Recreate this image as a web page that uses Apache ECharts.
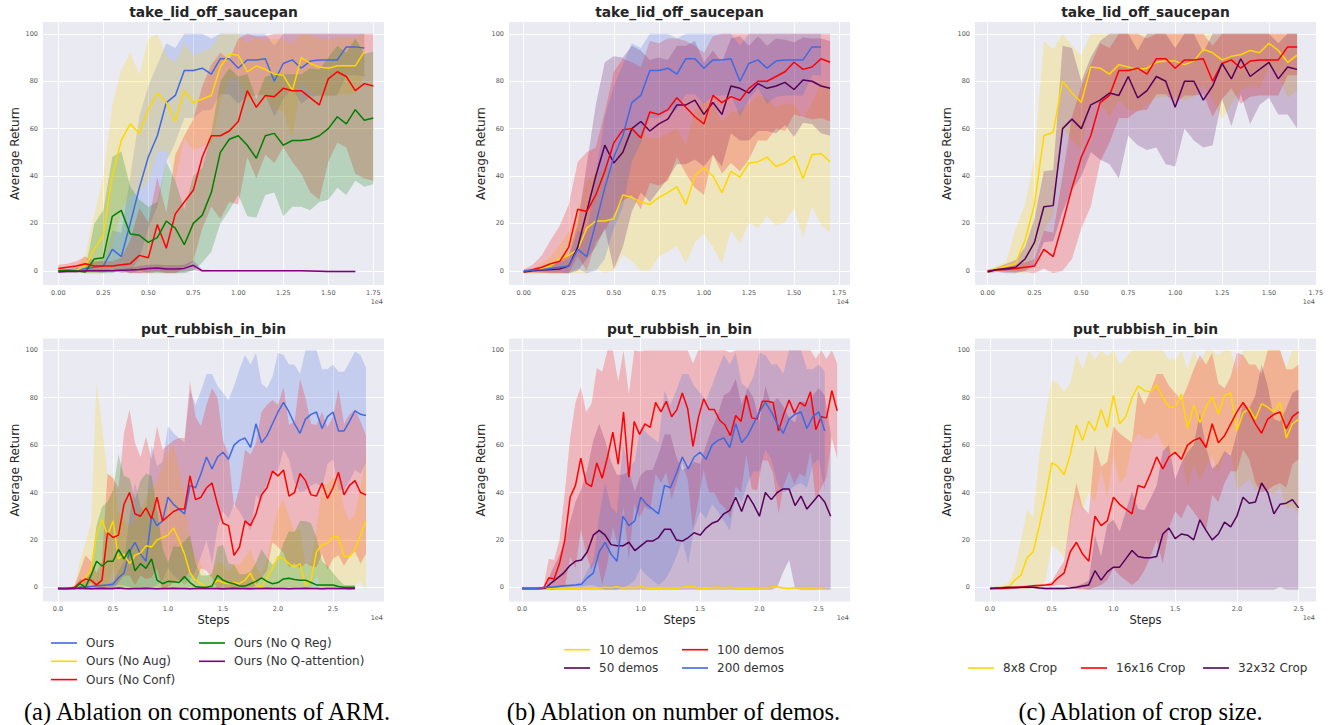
<!DOCTYPE html>
<html><head><meta charset="utf-8">
<script src="https://cdn.jsdelivr.net/npm/echarts@6/dist/echarts.min.js"></script>
<style>html,body{margin:0;padding:0;background:#fff}#c{width:1330px;height:725px}</style>
</head><body><div id="c"></div>
<script>
// ---------- tick labels ----------
const tickTop = [0, 2500, 5000, 7500, 10000, 12500, 15000, 17500];
const tickBottom = [0, 5000, 10000, 15000, 20000, 25000];
const tickY = [0, 20, 40, 60, 80, 100];

// ---------- take_lid_off_saucepan (logged every 500 steps) ----------
const oursTake = [0,0.3,0.5,1,1.5,2,9,6,20,35, 48,57,71,74,84.5,84.5,85.5,83,89.5,89.5, 85.5,89,89,89.5,80,87.5,89,85.5,88.5,89, 89,89,94.5,94.5,94];
const oursTakeSd = [0.5,0.5,1,1.5,2,3,8,10,20,30, 30,30,25,20,20,20,18,15,15,15, 15,15,15,15,15,15,12,15,15,15, 15,15,12,12,12];
const noAugTake = [0,0,0.3,2,9,15,40,55,62,58, 68,75,71,63,76,71,72.5,74,86,91.5, 91,84,86.5,85,83,82.5,76,90,87.5,86, 85.5,86.5,86.5,86.5,92.5];
const noAugTakeSd = [0.5,0.5,1,5,15,25,30,30,30,25, 30,25,20,25,20,20,20,20,15,10, 10,12,12,12,15,15,20,10,12,12, 12,12,12,12,10];
const noConfTake = [1,1.5,2,3,2,2,2,2.5,3,6.5, 5.5,19.5,9.5,24,29,34,48,57,57,59, 63,76,69,74,73.5,77,76,76,73,70, 81,84,82,76,79,78];
const noConfTakeSd = [1.5,1.5,2,3,2,2,2,3,10,20, 15,20,15,25,28,30,30,30,35,30, 35,28,30,25,28,25,30,35,40,40, 35,30,30,35,40,40];
const noQRegTake = [0,0,0,-0.5,5,5.5,23,25.5,15.5,15, 12,14,21,18,11,20,23.5,33,50,55.5, 57,53,47.5,57,58,53,55,55,55.5,57, 60,65,62,68,63.5,64.5];
const noQRegTakeSd = [0.5,0.5,0.5,1,15,20,25,25,20,15, 15,15,25,20,15,20,20,25,30,30, 25,30,25,25,25,30,28,28,30,28, 30,30,30,30,28,28];
const noQAttTake = [-0.5,-0.3,-0.3,0,0,0,0,0.2,0.3,0.5, 1,1.2,0.8,0.8,1,2.3,0,0,0,0, 0,0,0,0,0,0,0,0,-0.1,-0.2, -0.3,-0.3,-0.3,-0.3];
const noQAttTakeSd = [0.5,0.5,0.5,0.5,0.5,0.5,0.5,0.5,1,1.5, 1.5,1.5,1.5,1.5,1.5,2,0.5,0.3,0.3,0.3, 0.3,0.3,0.3,0.3,0.3,0.3,0.3,0.3,0.3,0.3, 0.3,0.3,0.3,0.3];

const tenTake = [-0.5,0,1,2,5,6.5,9,18,21,21, 22,32,31,29,28,31,33,35.5,28,40, 43.5,40,33,42,39.5,45.5,46,48,44,45.5, 48.5,39,49,49.5,46];
const tenTakeSd = [0.5,1,2,4,6,10,15,20,20,22, 22,25,27,29,28,25,25,25,25,28, 28,30,30,25,28,25,28,25,25,25, 22,25,22,30,30];
const fiftyTake = [-0.5,0,0.3,0.5,0.8,2,10,25,40,53, 45.5,50,60,63,59,62,64,70,70,72, 66,71,66,78,77,75,79,77,78,79.5, 76.5,80.5,80,78,77];
const fiftyTakeSd = [0.5,0.5,1,2,3,5,10,20,30,35, 45,40,35,30,30,28,25,25,25,25, 22,22,22,20,22,20,20,18,20,18, 20,18,18,20,20];
const hundredTake = [-0.5,0.5,1.5,3,4,10,26,25,32,42, 54,59.5,60,56,67,66,68,73,69,65, 62,74,71,73.5,72,77,80,80,82,84, 88,85,86,89.5,88];
const hundredTakeSd = [1,2,5,10,15,18,20,25,20,25, 30,30,28,30,30,30,30,25,28,30, 30,25,30,28,30,30,25,25,22,25, 22,20,22,25,25];

const eightTake = [-0.5,1,2,3,13,28,57,58.5,80,75, 71,86,85.5,83,87,86,85,85.5,88,88.5, 88.5,87,88.5,93.5,92,89,90.5,91.2,93,92, 96,93,88,91];
const eightTakeSd = [0.5,1,2,15,15,20,40,35,20,20, 20,15,15,18,15,18,18,15,15,15, 15,15,15,15,20,25,20,15,15,15, 10,10,15,15];
const thirtyTwoTake = [-0.5,0.5,1,1.5,5,12,27,27.5,60,64, 60,70,72,75,74,82,73,76,82,80, 69,80,80,72,78,87.5,81,89.5,82,85, 88,81,86,85];
const thirtyTwoTakeSd = [0.5,1,2,3,5,10,15,15,35,30, 20,20,25,30,35,25,20,25,30,35, 25,20,25,20,25,15,20,15,20,15, 15,15,20,25];

// ---------- put_rubbish_in_bin (logged every 500 steps; 100 demos every 450) ----------
const oursRub = [-0.5,-0.5,-0.5,-0.3,0,0,0.3,0.6,0.8,1, 1.3,4,6,15,19,14,11,30,26,28, 38,35,33,31,43,42,48,55,50,55, 57,54,60,62,63,59,69,61,64,69, 74,78,74,69,65,71,73,74,67,72, 74,66,66,70,74.5,73,72.5];
const oursRubSd = [0.5,0.5,0.5,0.5,0.5,0.5,0.5,0.5,0.5,0.5, 1,3,5,15,25,20,20,30,25,25, 30,30,30,30,40,35,35,35,40,30, 25,25,25,30,35,35,30,25,20,20, 25,20,20,25,25,30,30,30,25,20, 20,25,25,25,25,25,20];
const noAugRub = [-0.5,-0.5,-0.5,-0.3,1,4,7,22,28.5,22, 28,12,14,10,13.5,14.5,17.5,17,20,21, 22,25,20,14,6,3,1.5,0,1,3, 2,1.5,2,1.5,3,6,1,0,4,8, 13,12,10,8.5,10,1,3,15,18,18.5, 21.5,21,13,13,16,22,28];
const noAugRubSd = [0.5,0.5,0.5,0.5,10,15,20,65,40,25, 20,20,15,15,15,18,20,25,25,30, 35,35,30,25,15,10,8,5,5,8, 8,5,8,8,10,10,8,5,8,15, 20,25,20,15,15,8,8,10,25,25, 25,25,20,15,15,20,30];
const noConfRub = [-0.5,-0.5,-0.5,0,2,3.5,3,1,3,23, 21,22,35,40,31,30,33.5,29,38,28, 30,32,33,33,47,37,38,42,44,35, 27,26,13.5,17,28,26,31,39,42,49, 47,49.5,38.5,40,48,45,39,38.5,44,37.5, 42,48.5,39,43,45,40,39];
const noConfRubSd = [0.5,0.5,0.5,0.5,5,10,8,5,8,25, 25,20,30,35,30,25,30,25,30,30, 30,30,30,30,40,35,30,35,40,45, 35,30,20,25,30,30,30,35,35,30, 30,35,30,30,40,35,30,30,30,30, 30,35,30,30,30,30,25];
const noQRegRub = [-0.5,-0.5,-0.5,-0.5,1.5,0,5,11,9,11, 11,16,12,16,7,10,8,12,3,1.5, 2.5,2.3,2,4.5,2,0.3,0,0,0.5,5, 3,2,1.5,0.5,0.5,1.5,2.5,4,2.5,1.5, 2,3.5,3.8,3.3,3,3,2,1,1,1, 1,0.3,0,0,0];
const noQRegRubSd = [0.5,0.5,0.5,0.5,2,3,3,15,25,25, 30,40,35,30,30,35,40,35,30,15, 8,15,15,15,20,10,5,5,5,12, 15,8,8,5,5,5,8,12,10,8, 10,15,20,20,25,25,25,20,10,8, 5,3,1,1,1];
const noQAttRub = [-0.5,-0.6,-0.5,-0.5,-0.4,-0.5,-0.6,-0.5,-0.4,-0.5, -0.5,-0.3,-0.5,-0.6,-0.5,-0.5,-0.4,-0.5,-0.6,-0.5, -0.5,-0.4,-0.5,-0.5,-0.6,-0.5,-0.4,-0.5,-0.5,-0.5, -0.6,-0.5,-0.4,-0.5,-0.5,-0.6,-0.5,-0.5,-0.4,-0.5, -0.5,-0.5,-0.6,-0.5,-0.5,-0.4,-0.5,-0.5,-0.6,-0.5, -0.5,-0.5,-0.5,-0.6,-0.5];
const noQAttRubSd = [0.3,0.3,0.3,0.3,0.3,0.3,0.3,0.3,0.3,0.3, 0.3,0.3,0.3,0.3,0.3,0.3,0.3,0.3,0.3,0.3, 0.3,0.3,0.3,0.3,0.3,0.3,0.3,0.3,0.3,0.3, 0.3,0.3,0.3,0.3,0.3,0.3,0.3,0.3,0.3,0.3, 0.3,0.3,0.3,0.3,0.3,0.3,0.3,0.3,0.3,0.3, 0.3,0.3,0.3,0.3,0.3];

const tenRub = [-0.5,-0.5,-0.3,-0.5,-0.5,-0.3,-0.5,-0.4,-0.3,-0.5, -0.3,-0.2,-0.5,-0.3,0,-0.2,0.2,-0.3,0,-0.2, 0.2,-0.3,-0.5,-0.5,-0.3,-0.3,-0.5,0,0.3,0.2, -0.8,-0.5,-0.2,0,-0.3,0,-0.3,-0.5,-0.3,-0.4, -0.3,-0.2,0,0.2,-0.3,-0.5,-0.2,-0.3,-0.2,-0.3, -0.2,-0.2];
const tenRubSd = [0.5,0.5,0.5,0.5,0.5,0.5,0.5,0.5,0.5,0.5, 0.5,0.5,0.5,0.5,0.5,0.5,0.5,0.5,0.5,0.5, 0.5,0.5,0.5,0.5,0.5,0.5,0.5,0.5,0.5,0.5, 0.5,0.5,0.5,0.5,0.5,0.5,0.5,0.5,0.5,0.5, 0.5,0.5,0.5,0.5,0.5,0.5,0.5,0.5,0.5,0.5, 0.5,0.5];
const fiftyRub = [-0.5,-0.5,-0.5,-0.5,-0.3,2,4,6,9,11, 11.5,15,22,24,22,18,17.5,17.5,19,15.5, 17.5,19.5,19.5,21,24.5,24.5,20,19.5,21,23, 22,25,27,28,31,32.5,38,32,39,35, 30,40,37,40,41.5,41.5,34.5,38.5,33,36, 39,36,30];
const fiftyRubSd = [0.5,0.5,0.5,0.5,0.5,5,8,12,18,25, 30,35,40,45,40,35,30,30,30,25, 30,30,30,35,40,40,35,30,30,30, 30,35,40,45,50,50,50,45,45,45, 40,45,40,40,35,30,35,40,45,45, 45,45,35];
const hundredRub = [-0.5,-0.5,-0.5,-0.5,-0.5,4,3.5,10,20,38, 43,54.5,44,42.5,52.5,46,55,65.5,52,74, 46.5,70,64.5,69,67.5,78,74,78.5,72,75, 82,75.5,59.5,71.5,79.5,75,75,70.5,68.5,64, 72.5,70,81,71.5,71,78.5,78.5,78,66,73, 79,73.5,78,76.5,82.5,66.5,72,71.5,83,74.5];
const hundredRubSd = [0.5,0.5,0.5,0.5,0.5,8,8,10,20,25, 35,30,30,35,40,45,45,40,35,40, 35,35,35,35,35,30,30,30,35,30, 30,30,35,35,30,35,35,35,35,35, 30,30,25,30,30,25,25,30,35,30, 30,30,30,30,25,30,30,25,20,20];

const eightRub = [-0.5,-0.3,0,0,3,5,12.5,15,26,38, 52.5,51,47.5,56,68.5,62,70,66,75,67.5, 81,69,72,80,85,83,82.5,85.5,80,76, 76,81.5,67,77,69.5,76,80.5,73,81,82, 66,73.5,75.5,71,77.5,76,74,78,63,69, 71];
const eightRubSd = [0.5,0.5,0.5,2,5,15,20,15,30,35, 35,35,35,30,30,30,30,30,25,30, 25,25,25,20,20,20,20,20,20,20, 20,25,25,25,25,25,25,25,25,25, 25,30,30,30,35,35,35,35,30,35, 40];
const thirtyTwoRub = [-0.5,-0.3,-0.2,0,-0.2,0,0,0,-0.3,-0.5, -0.5,-0.5,-0.5,-0.3,0,0.5,1,7,3,6.5, 8.5,8.5,12,15.5,13,12.5,12.5,13,22.5,25, 20.5,22.5,22,20,28.5,24,20,22.5,27.5,25.5, 30,38,35.5,36,44,40,31,35,35.5,37, 33.5];
const thirtyTwoRubSd = [0.5,0.5,0.5,0.5,0.5,0.5,0.5,0.5,0.5,0.5, 0.5,0.5,0.5,0.5,0.5,1,2,15,10,20, 20,15,20,25,20,20,25,30,35,35, 25,30,35,40,45,35,30,30,30,30, 35,40,40,45,50,45,40,35,40,45, 50];

// ---------- styling ----------
const COL = {blue:'#4169e1', gold:'#ffd700', red:'#ff0000', green:'#008000', purple:'#800080', plum:'#55005a'};
const FONT = 'DejaVu Sans';
const GL = [43, 509, 975], GT = [22, 338.5], GW = 341, GH = 263;

function rgba(hex, a) {
  const n = parseInt(hex.slice(1), 16);
  return 'rgba(' + ((n >> 16) & 255) + ',' + ((n >> 8) & 255) + ',' + (n & 255) + ',' + a + ')';
}

const panels = [
  {c:0, r:0, title:'take_lid_off_saucepan', xmin:-850, xmax:18094, ticks:tickTop, dec:2, s:[
    {name:'Ours', col:COL.blue, m:oursTake, sd:oursTakeSd, step:500},
    {name:'Ours (No Aug)', col:COL.gold, m:noAugTake, sd:noAugTakeSd, step:500},
    {name:'Ours (No Conf)', col:COL.red, m:noConfTake, sd:noConfTakeSd, step:500},
    {name:'Ours (No Q Reg)', col:COL.green, m:noQRegTake, sd:noQRegTakeSd, step:500},
    {name:'Ours (No Q-attention)', col:COL.purple, m:noQAttTake, sd:noQAttTakeSd, step:500}]},
  {c:1, r:0, title:'take_lid_off_saucepan', xmin:-816, xmax:18107, ticks:tickTop, dec:2, s:[
    {name:'10 demos', col:COL.gold, m:tenTake, sd:tenTakeSd, step:500},
    {name:'50 demos', col:COL.plum, m:fiftyTake, sd:fiftyTakeSd, step:500},
    {name:'100 demos', col:COL.red, m:hundredTake, sd:hundredTakeSd, step:500},
    {name:'200 demos', col:COL.blue, m:oursTake.slice(0,34), sd:oursTakeSd.slice(0,34), step:500}]},
  {c:2, r:0, title:'take_lid_off_saucepan', xmin:-670, xmax:17510, ticks:tickTop, dec:2, s:[
    {name:'8x8 Crop', col:COL.gold, m:eightTake, sd:eightTakeSd, step:500},
    {name:'16x16 Crop', col:COL.red, m:oursTake.slice(0,34), sd:oursTakeSd.slice(0,34), step:500},
    {name:'32x32 Crop', col:COL.plum, m:thirtyTwoTake, sd:thirtyTwoTakeSd, step:500}]},
  {c:0, r:1, title:'put_rubbish_in_bin', xmin:-1364, xmax:29636, ticks:tickBottom, dec:1, s:[
    {name:'Ours', col:COL.blue, m:oursRub, sd:oursRubSd, step:500},
    {name:'Ours (No Aug)', col:COL.gold, m:noAugRub, sd:noAugRubSd, step:500},
    {name:'Ours (No Conf)', col:COL.red, m:noConfRub, sd:noConfRubSd, step:500},
    {name:'Ours (No Q Reg)', col:COL.green, m:noQRegRub, sd:noQRegRubSd, step:500},
    {name:'Ours (No Q-attention)', col:COL.purple, m:noQAttRub, sd:noQAttRubSd, step:500}]},
  {c:1, r:1, title:'put_rubbish_in_bin', xmin:-1100, xmax:27630, ticks:tickBottom, dec:1, s:[
    {name:'10 demos', col:COL.gold, m:tenRub, sd:tenRubSd, step:500},
    {name:'50 demos', col:COL.plum, m:fiftyRub, sd:fiftyRubSd, step:500},
    {name:'100 demos', col:COL.red, m:hundredRub, sd:hundredRubSd, step:450},
    {name:'200 demos', col:COL.blue, m:oursRub.slice(0,52), sd:oursRubSd.slice(0,52), step:500}]},
  {c:2, r:1, title:'put_rubbish_in_bin', xmin:-1216, xmax:26410, ticks:tickBottom, dec:1, s:[
    {name:'8x8 Crop', col:COL.gold, m:eightRub, sd:eightRubSd, step:500},
    {name:'16x16 Crop', col:COL.red, m:oursRub.slice(0,51), sd:oursRubSd.slice(0,51), step:500},
    {name:'32x32 Crop', col:COL.plum, m:thirtyTwoRub, sd:thirtyTwoRubSd, step:500}]}
];

function txt(x, y, text, font, fill, align, rot) {
  return {type: 'text', x: x, y: y, rotation: rot || 0, silent: true,
    style: {text: text, font: font, fill: fill, align: align, verticalAlign: 'middle',
      textAlign: align, textVerticalAlign: 'middle'}};
}

const grid = [], xAxis = [], yAxis = [], series = [], graphic = [];
panels.forEach((p, gi) => {
  const left = GL[p.c], top = GT[p.r];
  grid.push({left: left, top: top, width: GW, height: GH, show: true, backgroundColor: '#eaeaf2', borderWidth: 0, outerBoundsMode: 'none', containLabel: false});
  xAxis.push({
    gridIndex: gi, type: 'value', min: p.xmin, max: p.xmax,
    axisLine: {show: false}, axisTick: {show: false, customValues: p.ticks},
    axisLabel: {customValues: p.ticks, formatter: v => (v / 1e4).toFixed(p.dec), fontSize: 6.5, color: '#555', margin: 4, fontFamily: FONT},
    splitLine: {show: true, lineStyle: {color: '#ffffff', width: 1}},
    name: p.r === 1 ? 'Steps' : '', nameLocation: 'middle', nameGap: 12,
    nameTextStyle: {fontSize: 11.5, color: '#262626', fontFamily: FONT}
  });
  yAxis.push({
    gridIndex: gi, type: 'value', min: -6, max: 105,
    axisLine: {show: false}, axisTick: {show: false, customValues: tickY},
    axisLabel: {customValues: tickY, formatter: v => String(Math.round(v)), fontSize: 6.5, color: '#555', margin: 5, fontFamily: FONT},
    splitLine: {show: true, lineStyle: {color: '#ffffff', width: 1}}
  });
  p.s.forEach(s => {
    const xs = s.m.map((_, i) => i * s.step);
    const lo = s.m.map((v, i) => Math.max(v - s.sd[i], -1));
    const hi = s.m.map((v, i) => Math.min(v + s.sd[i], 100));
    const fill = rgba(s.col, 0.22);
    series.push({
      type: 'custom', name: 'band-' + s.name + '-' + gi, coordinateSystem: 'cartesian2d',
      xAxisIndex: gi, yAxisIndex: gi, silent: true, z: 2, animation: false,
      data: [[xs[0], s.m[0]]],
      renderItem: function (params, api) {
        const pts = [];
        for (let i = 0; i < xs.length; i++) pts.push(api.coord([xs[i], hi[i]]));
        for (let i = xs.length - 1; i >= 0; i--) pts.push(api.coord([xs[i], lo[i]]));
        return {type: 'polygon', shape: {points: pts}, style: {fill: fill, stroke: null}};
      }
    });
  });
  p.s.forEach(s => {
    series.push({
      type: 'line', name: s.name, xAxisIndex: gi, yAxisIndex: gi, z: 3,
      data: s.m.map((v, i) => [i * s.step, v]),
      symbol: 'none', showSymbol: false, animation: false,
      lineStyle: {color: s.col, width: 1.5}, itemStyle: {color: s.col}
    });
  });
  // subplot title
  graphic.push(txt(left + GW / 2, p.r === 0 ? 11.5 : 328.5, p.title, 'bold 13.8px "DejaVu Sans"', '#262626', 'center'));
  // y axis label
  graphic.push(txt(left - 28, top + GH / 2, 'Average Return', '12px "DejaVu Sans"', '#262626', 'center', Math.PI / 2));
  // offset text
  graphic.push(txt(left + GW - 1, top + GH + 16.5, '1e4', '6.5px "DejaVu Sans"', '#555', 'right'));
});

const captions = [
  {text: '(a) Ablation on components of ARM.', x: 207},
  {text: '(b) Ablation on number of demos.', x: 673.5},
  {text: '(c) Ablation of crop size.', x: 1140.5}
];
captions.forEach(c => graphic.push(txt(c.x, 711.5, c.text, '24.5px "Liberation Serif"', '#000', 'center')));

const legStyle = {fontSize: 12, lineHeight: 12, color: '#333', fontFamily: FONT, padding: [0, 0, 0, 4]};
function leg(names, left, top) {
  return {data: names.map(n => ({name: n, icon: 'rect'})), left: left, top: top, orient: 'vertical',
    itemWidth: 26, itemHeight: 1.6, itemGap: 6.3, padding: 0, selectedMode: false, textStyle: legStyle};
}
const legend = [
  leg(['Ours', 'Ours (No Aug)', 'Ours (No Conf)'], 51, 637),
  leg(['Ours (No Q Reg)', 'Ours (No Q-attention)'], 199, 637),
  leg(['10 demos', '50 demos'], 564, 643.7),
  leg(['100 demos', '200 demos'], 682, 643.7),
  leg(['8x8 Crop'], 968, 662),
  leg(['16x16 Crop'], 1081, 662),
  leg(['32x32 Crop'], 1203, 662)
];

const chart = echarts.init(document.getElementById('c'), null, {renderer: 'svg', width: 1330, height: 725});
chart.setOption({
  animation: false,
  backgroundColor: '#ffffff',
  textStyle: {fontFamily: FONT},
  grid: grid, xAxis: xAxis, yAxis: yAxis, series: series, legend: legend, graphic: graphic
});
</script></body></html>
